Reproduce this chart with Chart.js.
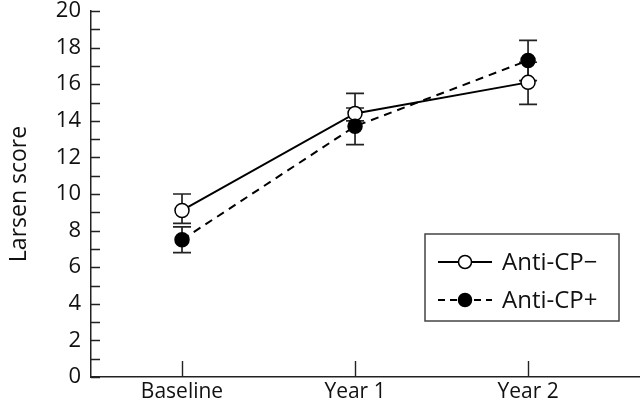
<!DOCTYPE html>
<html>
<head>
<meta charset="utf-8">
<script src="https://cdn.jsdelivr.net/npm/chart.js@4/dist/chart.umd.min.js"></script>
<style>
  body { margin: 0; background: #fff; }
  #wrap { width: 640px; height: 406px; }
</style>
</head>
<body>
<div id="wrap"><canvas id="larsenChart" width="640" height="406"></canvas></div>
<script>
const categories = ['Baseline', 'Year 1', 'Year 2'];
const yTicks = [0, 2, 4, 6, 8, 10, 12, 14, 16, 18, 20];

// Anti-CP- (open circles, solid line)
const negMean = [9.1, 14.4, 16.1];
const negUpper = [10.0, 15.5, 17.2];
const negLower = [8.4, 14.0, 14.9];

// Anti-CP+ (filled circles, dashed line)
const posMean = [7.5, 13.7, 17.3];
const posUpper = [8.2, 14.7, 18.4];
const posLower = [6.8, 12.7, 16.2];

const FONT = '"Open Sans", "DejaVu Sans", sans-serif';

function toPoints(arr) {
  return arr.map((v, i) => ({ x: i, y: v }));
}

// error bars, drawn under the markers
const errorBars = {
  id: 'errorBars',
  beforeDatasetsDraw(chart) {
    const ctx = chart.ctx;
    const xs = chart.scales.x, ys = chart.scales.y;
    const sets = [[negLower, negUpper], [posLower, posUpper]];
    ctx.save();
    ctx.strokeStyle = '#222';
    ctx.lineWidth = 1.7;
    sets.forEach(([lo, hi]) => {
      for (let i = 0; i < categories.length; i++) {
        const x = xs.getPixelForValue(i);
        const y1 = ys.getPixelForValue(lo[i]);
        const y2 = ys.getPixelForValue(hi[i]);
        ctx.beginPath();
        ctx.moveTo(x, y1); ctx.lineTo(x, y2);
        ctx.moveTo(x - 9, y1); ctx.lineTo(x + 9, y1);
        ctx.moveTo(x - 9, y2); ctx.lineTo(x + 9, y2);
        ctx.stroke();
      }
    });
    ctx.restore();
  }
};

// inward tick marks
const innerTicks = {
  id: 'innerTicks',
  afterDraw(chart) {
    const ctx = chart.ctx;
    const xs = chart.scales.x, ys = chart.scales.y;
    const a = chart.chartArea;
    ctx.save();
    ctx.strokeStyle = '#222';
    ctx.lineWidth = 1.4;
    ctx.beginPath();
    for (let v = 0; v <= 20; v++) {
      const y = Math.round(ys.getPixelForValue(v)) + 0.5;
      ctx.moveTo(a.left, y); ctx.lineTo(a.left + 9, y);
    }
    for (let i = 0; i < categories.length; i++) {
      const x = Math.round(xs.getPixelForValue(i)) + 0.5;
      ctx.moveTo(x, a.bottom); ctx.lineTo(x, a.bottom - 16);
    }
    ctx.stroke();
    ctx.restore();
  }
};

// boxed legend inside the plot
const boxLegend = {
  id: 'boxLegend',
  afterDraw(chart) {
    const ctx = chart.ctx;
    const bx = 425, by = 234, bw = 194, bh = 87;
    ctx.save();
    ctx.strokeStyle = '#444';
    ctx.lineWidth = 1.5;
    ctx.strokeRect(bx, by, bw, bh);
    const rows = [
      { label: 'Anti-CP\u2212', dash: [], fill: '#fff', y: by + 28 },
      { label: 'Anti-CP+', dash: [7, 5], fill: '#000', y: by + 66 }
    ];
    rows.forEach(r => {
      ctx.strokeStyle = '#000';
      ctx.lineWidth = 2;
      ctx.setLineDash(r.dash);
      ctx.beginPath();
      ctx.moveTo(bx + 13, r.y); ctx.lineTo(bx + 67, r.y);
      ctx.stroke();
      ctx.setLineDash([]);
      ctx.beginPath();
      ctx.arc(bx + 40, r.y, 6.5, 0, Math.PI * 2);
      ctx.fillStyle = r.fill;
      ctx.fill();
      ctx.lineWidth = 1.5;
      ctx.stroke();
      ctx.fillStyle = '#111';
      ctx.font = '24px ' + FONT;
      ctx.textBaseline = 'middle';
      ctx.fillText(r.label, bx + 77, r.y + 1);
    });
    ctx.restore();
  }
};

new Chart(document.getElementById('larsenChart').getContext('2d'), {
  type: 'line',
  data: {
    datasets: [
      {
        label: 'Anti-CP\u2212',
        data: toPoints(negMean),
        borderColor: '#000',
        borderWidth: 2,
        pointRadius: 7,
        pointBackgroundColor: '#fff',
        pointBorderColor: '#000',
        pointBorderWidth: 1.5,
        order: 2
      },
      {
        label: 'Anti-CP+',
        data: toPoints(posMean),
        borderColor: '#000',
        borderWidth: 2,
        borderDash: [8, 6],
        pointRadius: 7,
        pointBackgroundColor: '#000',
        pointBorderColor: '#000',
        pointBorderWidth: 1.5,
        order: 1
      }
    ]
  },
  options: {
    responsive: false,
    devicePixelRatio: 1,
    animation: false,
    layout: { autoPadding: false, padding: { top: 11, right: 0, left: 0, bottom: 0 } },
    plugins: { legend: { display: false }, tooltip: { enabled: false } },
    scales: {
      x: {
        type: 'linear',
        min: -0.526,
        max: 2.647,
        afterBuildTicks: s => { s.ticks = categories.map((c, i) => ({ value: i })); },
        afterFit: s => { s.height = 29; s.paddingLeft = 0; s.paddingRight = 0; },
        grid: { display: false, drawTicks: false },
        border: { display: true, color: '#222', width: 1.5 },
        ticks: {
          color: '#111',
          font: { family: FONT, size: 21 },
          padding: 2,
          maxRotation: 0,
          callback: v => categories[v]
        }
      },
      y: {
        min: 0,
        max: 20,
        afterBuildTicks: s => { s.ticks = yTicks.map(v => ({ value: v })); },
        afterFit: s => { s.width = 91; s.paddingTop = 0; s.paddingBottom = 0; },
        grid: { display: false, drawTicks: false },
        border: { display: true, color: '#222', width: 1.5 },
        title: {
          display: true,
          text: 'Larsen score',
          color: '#111',
          font: { family: FONT, size: 23 },
          padding: { top: 6, bottom: 2 }
        },
        ticks: {
          color: '#111',
          font: { family: FONT, size: 22 },
          padding: 10
        }
      }
    }
  },
  plugins: [errorBars, innerTicks, boxLegend]
});
</script>
</body>
</html>
